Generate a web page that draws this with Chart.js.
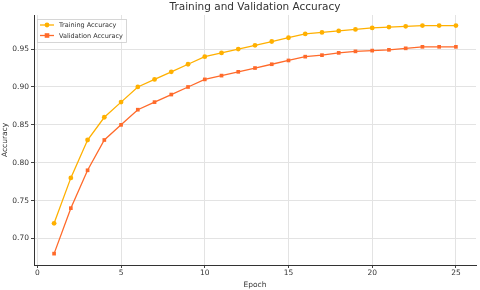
<!DOCTYPE html>
<html>
<head>
<meta charset="utf-8">
<script src="https://cdn.jsdelivr.net/npm/chart.js@4"></script>
<style>
  html, body { margin: 0; padding: 0; background: #fff; }
  #wrap { width: 480px; height: 290px; }
</style>
</head>
<body>
<div id="wrap"><canvas id="accChart" width="480" height="290"></canvas></div>
<script>
// epochs 1..25
const epochs = [1, 2, 3, 4, 5, 6, 7, 8, 9, 10, 11, 12, 13, 14, 15, 16, 17, 18, 19, 20, 21, 22, 23, 24, 25];
const trainAcc = [0.72, 0.78, 0.83, 0.86, 0.88, 0.90, 0.91, 0.92, 0.93, 0.94, 0.945, 0.95, 0.955, 0.96, 0.965, 0.97, 0.972, 0.974, 0.976, 0.978, 0.979, 0.98, 0.981, 0.981, 0.981];
const valAcc = [0.68, 0.74, 0.79, 0.83, 0.85, 0.87, 0.88, 0.89, 0.90, 0.91, 0.915, 0.92, 0.925, 0.93, 0.935, 0.94, 0.942, 0.945, 0.947, 0.948, 0.949, 0.951, 0.953, 0.953, 0.953];
const xTicks = [0, 5, 10, 15, 20, 25];
const yTicks = [0.70, 0.75, 0.80, 0.85, 0.90, 0.95];

const txt = '#333';
const font = 'DejaVu Sans';

// title + legend box drawn over the plot like matplotlib does
const overlay = {
    id: 'overlay',
    afterDraw(chart) {
        const ctx = chart.ctx;
        const a = chart.chartArea;
        ctx.save();
        ctx.fillStyle = txt;
        ctx.font = '10.5px "' + font + '"';
        ctx.textAlign = 'center';
        ctx.textBaseline = 'middle';
        ctx.fillText('Training and Validation Accuracy', (a.left + a.right) / 2, 7);

        // legend
        const bx = a.left + 3, by = a.top + 4, bw = 89, bh = 23;
        ctx.fillStyle = 'rgba(255,255,255,0.8)';
        ctx.fillRect(bx, by, bw, bh);
        ctx.strokeStyle = '#ccc';
        ctx.lineWidth = 0.8;
        ctx.strokeRect(bx + 0.5, by + 0.5, bw, bh);
        ctx.font = '6.5px "' + font + '"';
        ctx.textAlign = 'left';
        chart.data.datasets.forEach((ds, i) => {
            const y = by + 6 + i * 10.5;
            ctx.strokeStyle = ds.borderColor;
            ctx.lineWidth = 1.3;
            ctx.beginPath();
            ctx.moveTo(bx + 3, y);
            ctx.lineTo(bx + 17, y);
            ctx.stroke();
            ctx.fillStyle = ds.borderColor;
            if (ds.pointStyle === 'rect') {
                ctx.fillRect(bx + 10 - 2.3, y - 2.3, 4.6, 4.6);
            } else {
                ctx.beginPath();
                ctx.arc(bx + 10, y, 2.4, 0, Math.PI * 2);
                ctx.fill();
            }
            ctx.fillStyle = txt;
            ctx.fillText(ds.label, bx + 22, y + 0.5);
        });
        ctx.restore();
    }
};

const ctx = document.getElementById('accChart').getContext('2d');
const accChart = new Chart(ctx, {
    type: 'line',
    data: {
        datasets: [{
            label: 'Training Accuracy',
            data: epochs.map((e, i) => ({ x: e, y: trainAcc[i] })),
            borderColor: '#FFB000',
            backgroundColor: '#FFB000',
            borderWidth: 1.3,
            pointStyle: 'circle',
            pointRadius: 2.4,
            pointBorderWidth: 0
        }, {
            label: 'Validation Accuracy',
            data: epochs.map((e, i) => ({ x: e, y: valAcc[i] })),
            borderColor: '#FF6A2A',
            backgroundColor: '#FF6A2A',
            borderWidth: 1.3,
            pointStyle: 'rect',
            pointRadius: 2.6,
            pointBorderWidth: 0
        }]
    },
    options: {
        responsive: false,
        animation: false,
        layout: { padding: { top: 15, right: 4, left: 1, bottom: 0 } },
        plugins: {
            legend: { display: false },
            title: { display: false },
            tooltip: { enabled: false }
        },
        scales: {
            x: {
                type: 'linear',
                min: -0.2,
                max: 26.2,
                afterBuildTicks: (axis) => { axis.ticks = xTicks.map(v => ({ value: v })); },
                afterFit: (axis) => { axis.height = 25; },
                ticks: { color: txt, font: { family: font, size: 7.5 }, padding: 1, maxRotation: 0 },
                grid: { color: '#e3e3e3', borderDash: [2, 2], tickColor: '#444', tickLength: 3 },
                border: { display: true, color: '#333', width: 1 },
                title: { display: true, text: 'Epoch', color: txt, font: { family: font, size: 7.5 }, padding: { top: 1, bottom: 0 } }
            },
            y: {
                min: 0.665,
                max: 0.995,
                afterBuildTicks: (axis) => { axis.ticks = yTicks.map(v => ({ value: v })); },
                afterFit: (axis) => { axis.width = 33; },
                ticks: { color: txt, font: { family: font, size: 7.5 }, padding: 2, callback: (v) => v.toFixed(2) },
                grid: { color: '#e3e3e3', borderDash: [2, 2], tickColor: '#444', tickLength: 3 },
                border: { display: true, color: '#333', width: 1 },
                title: { display: true, text: 'Accuracy', color: txt, font: { family: font, size: 7.5 }, padding: { top: 0, bottom: 0 } }
            }
        }
    },
    plugins: [overlay]
});
</script>
</body>
</html>
